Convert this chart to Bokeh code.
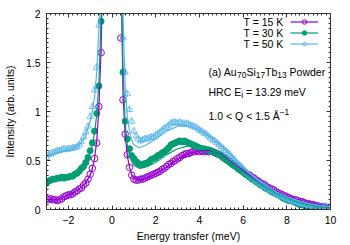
import numpy as np
from bokeh.plotting import figure
from bokeh.models import (Range1d, LinearAxis, FixedTicker, Label, Legend, LegendItem,
                          CustomJSTickFormatter, CustomLabelingPolicy)
from bokeh.embed import file_html
from bokeh.resources import INLINE

nan = np.nan

# ---------------- data ----------------
# energy transfer grid (meV), -3.0 ... 10.0 in 0.1 steps
energy = np.round(np.arange(-30, 101) / 10.0, 1)

int_15K = [
    0.11, 0.10, 0.11, 0.10, 0.10, 0.09, 0.10, 0.11, 0.13, 0.14,
    0.15, 0.15, 0.16, 0.18, 0.19, 0.21, 0.22, 0.25, 0.27, 0.31,
    0.36, 0.42, 0.52, 0.68, 1.05, 1.60, 2.8, 6.0, 15.0, 28.0,
    35.0, 28.0, 15.0, 5.0, 1.75, 1.12, 0.77, 0.56, 0.43, 0.35,
    0.31, 0.30, 0.30, 0.31, 0.31, 0.32, 0.33, 0.34, 0.35, 0.36,
    0.37, 0.38, 0.39, 0.41, 0.42, 0.44, 0.46, 0.47, 0.49, 0.50,
    0.52, 0.53, 0.55, 0.56, 0.57, 0.57, 0.58, 0.59, 0.59, 0.60,
    0.59, 0.60, 0.59, 0.60, 0.59, 0.60, 0.59, 0.58, 0.57, 0.56,
    0.55, 0.53, 0.52, 0.50, 0.49, 0.47, 0.45, 0.44, 0.42, 0.40,
    0.39, 0.37, 0.36, 0.35, 0.33, 0.32, 0.30, 0.29, 0.27, 0.26,
    0.25, 0.23, 0.22, 0.21, 0.20, 0.18, 0.17, 0.16, 0.15, 0.14,
    0.13, 0.12, 0.11, 0.10, 0.10, 0.09, 0.08, 0.08, 0.07, 0.06,
    0.06, 0.05, 0.05, 0.04, 0.04, 0.03, 0.03, 0.03, 0.02, 0.02,
    0.02]

int_30K = [
    0.27, 0.29, 0.30, 0.31, 0.31, 0.32, 0.32, 0.33, 0.32, 0.33,
    0.33, 0.34, 0.34, 0.36, 0.37, 0.39, 0.42, 0.44, 0.48, 0.53,
    0.60, 0.68, 0.80, 0.98, 1.26, 1.92, 3.5, 8.0, 18.0, 32.0,
    38.0, 32.0, 18.0, 7.0, 2.3, 1.40, 0.90, 0.72, 0.62, 0.55,
    0.52, 0.49, 0.47, 0.46, 0.46, 0.47, 0.47, 0.49, 0.51, 0.52,
    0.53, 0.55, 0.56, 0.58, 0.59, 0.61, 0.63, 0.66, 0.67, 0.68,
    0.69, 0.70, 0.69, 0.70, 0.69, 0.68, 0.67, 0.66, 0.65, 0.64,
    0.63, 0.62, 0.62, 0.61, 0.61, 0.60, 0.59, 0.58, 0.57, 0.56,
    0.55, 0.53, 0.51, 0.50, 0.48, 0.46, 0.45, 0.43, 0.41, 0.40,
    0.38, 0.36, 0.35, 0.33, 0.31, 0.30, 0.28, 0.27, 0.25, 0.24,
    0.22, 0.21, 0.20, 0.18, 0.17, 0.16, 0.15, 0.14, 0.12, 0.11,
    0.10, 0.09, 0.09, 0.08, 0.07, 0.06, 0.05, 0.05, 0.04, 0.03,
    0.03, 0.02, 0.02, 0.02, 0.02, 0.02, nan, nan, nan, nan,
    nan]

int_50K = [
    0.53, 0.56, 0.57, 0.58, 0.59, 0.60, 0.60, 0.61, 0.62, 0.61,
    0.62, 0.62, 0.63, 0.63, 0.64, 0.66, 0.69, 0.74, 0.79, 0.85,
    0.95, 1.05, 1.22, 1.45, 1.88, 2.6, 4.5, 9.0, 20.0, 34.0,
    40.0, 34.0, 20.0, 8.5, 2.6, 1.75, 1.40, 1.18, 1.02, 0.90,
    0.80, 0.75, 0.72, 0.70, 0.71, 0.72, 0.72, 0.73, 0.74, 0.74,
    0.76, 0.77, 0.79, 0.81, 0.83, 0.84, 0.86, 0.88, 0.89, 0.89,
    0.88, 0.89, 0.88, 0.87, 0.88, 0.87, 0.86, 0.85, 0.84, 0.83,
    0.81, 0.80, 0.78, 0.77, 0.75, 0.73, 0.71, 0.70, 0.68, 0.66,
    0.64, 0.62, 0.60, 0.58, 0.56, 0.53, 0.51, 0.48, 0.46, 0.44,
    0.42, 0.39, 0.37, 0.35, 0.33, 0.31, 0.29, 0.27, 0.26, 0.24,
    0.23, 0.21, 0.20, 0.19, 0.17, 0.16, 0.15, 0.14, 0.13, 0.12,
    0.11, 0.10, 0.09, 0.08, 0.08, 0.07, 0.06, 0.06, 0.05, 0.05,
    0.04, 0.04, 0.03, 0.03, 0.03, 0.03, 0.03, 0.03, 0.03, nan,
    nan]

err_15K = 0.015
err_30K = 0.015
err_50K = 0.03

# model fits
fit_energy = [-3.0, -2.5, -2.0, -1.5, -1.25, -1.0, -0.9, -0.8, -0.7, -0.6, -0.5, -0.45, -0.4,
              0.4, 0.45, 0.5, 0.6, 0.7, 0.8, 0.9, 1.0, 1.25, 1.5, 2.0, 2.5, 3.0, 3.5, 4.0,
              4.5, 5.0, 5.5, 6.0, 6.5, 7.0, 7.5, 8.0, 8.5, 9.0, 9.5, 10.0]
fit_15K = [0.10, 0.10, 0.15, 0.21, 0.26, 0.35, 0.42, 0.52, 0.70, 1.05, 1.65, 2.2, 3.0,
           3.0, 1.9, 1.2, 0.76, 0.55, 0.43, 0.36, 0.32, 0.30, 0.31, 0.36, 0.43, 0.51, 0.57, 0.60,
           0.60, 0.56, 0.48, 0.40, 0.32, 0.25, 0.19, 0.14, 0.10, 0.07, 0.05, 0.03]
fit_30K = [0.28, 0.31, 0.33, 0.39, 0.45, 0.58, 0.66, 0.78, 0.97, 1.30, 1.95, 2.5, 3.2,
           3.2, 2.2, 1.45, 0.88, 0.66, 0.55, 0.49, 0.45, 0.42, 0.43, 0.48, 0.56, 0.62, 0.65, 0.64,
           0.61, 0.55, 0.47, 0.38, 0.30, 0.23, 0.17, 0.12, 0.08, 0.05, 0.03, 0.02]
fit_50K = [0.55, 0.58, 0.61, 0.66, 0.73, 0.90, 1.00, 1.15, 1.40, 1.85, 2.6, 3.0, 3.5,
           3.5, 2.8, 2.0, 1.25, 0.95, 0.80, 0.71, 0.66, 0.63, 0.65, 0.72, 0.80, 0.85, 0.85, 0.81,
           0.74, 0.65, 0.54, 0.43, 0.33, 0.25, 0.18, 0.13, 0.09, 0.06, 0.04, 0.03]

series_labels = ["T = 15 K", "T = 30 K", "T = 50 K"]
x_ticks = [-2, 0, 2, 4, 6, 8, 10]
y_ticks = [0, 0.5, 1, 1.5, 2]

# ---------------- styles ----------------
FONT = "Liberation Sans"
FS = "10.5px"
SUB = "8.4px"
AXC = "#333333"
C15, C30, C50 = "#9400d3", "#009e73", "#56b4e9"

p = figure(width=350, height=245, x_range=Range1d(-3, 10), y_range=Range1d(0, 2),
           output_backend="svg", toolbar_location=None, min_border=0,
           min_border_left=46, min_border_right=20, min_border_top=13, min_border_bottom=36)
p.outline_line_color = None
p.xgrid.visible = False
p.ygrid.visible = False
p.background_fill_color = "white"
p.border_fill_color = "white"

xa = p.below[0]
ya = p.left[0]

x_minor = list(np.round(np.arange(-15, 51) * 0.2, 1))
y_minor = list(np.round(np.arange(0, 41) * 0.05, 2))
xt = FixedTicker(ticks=x_ticks, minor_ticks=x_minor)
yt = FixedTicker(ticks=y_ticks, minor_ticks=y_minor)
fmt = CustomJSTickFormatter(code="return tick < 0 ? '\\u2212' + String(-tick) : String(tick);")
no_labels = CustomLabelingPolicy(code="""
const all = [...indices];
for (const i of all) { indices.unset(i); }
return indices;
""")

top = LinearAxis(ticker=xt, formatter=fmt, major_label_policy=no_labels)
right = LinearAxis(ticker=yt, formatter=fmt, major_label_policy=no_labels)
p.add_layout(top, "above")
p.add_layout(right, "right")

xa.ticker = xt
ya.ticker = yt
xa.formatter = fmt
ya.formatter = fmt
xa.axis_label = "Energy transfer (meV)"
ya.axis_label = "Intensity (arb. units)"

for ax in (xa, ya, top, right):
    ax.major_tick_in = 4
    ax.major_tick_out = 0
    ax.minor_tick_in = 2
    ax.minor_tick_out = 0
    ax.axis_line_color = AXC
    ax.major_tick_line_color = AXC
    ax.minor_tick_line_color = AXC
    ax.major_label_text_font = FONT
    ax.major_label_text_font_size = FS
    ax.major_label_text_color = "black"
    ax.axis_label_text_font = FONT
    ax.axis_label_text_font_size = FS
    ax.axis_label_text_font_style = "normal"
    ax.axis_label_text_color = "black"
for ax in (top, right):
    ax.major_label_text_font_size = "1px"
    ax.major_label_standoff = 0
xa.major_label_standoff = 6
xa.axis_label_standoff = 3
ya.major_label_standoff = 6
ya.axis_label_standoff = 7

# ---------------- data marks ----------------
e = np.asarray(energy)
a15, a30, a50 = np.asarray(int_15K), np.asarray(int_30K), np.asarray(int_50K)

p.segment(e, a15 - err_15K, e, a15 + err_15K, line_color=C15, line_width=0.8)
s15 = p.scatter(e, a15, marker="circle", size=6.5, fill_color=None, line_color=C15, line_width=1)
p.segment(e, a30 - err_30K, e, a30 + err_30K, line_color=C30, line_width=0.8)
s30 = p.scatter(e, a30, marker="circle", size=6, fill_color=C30, line_color=C30, line_width=1)
p.segment(e, a50 - err_50K, e, a50 + err_50K, line_color=C50, line_width=0.8)
s50 = p.scatter(e, a50, marker="triangle", size=6.5, fill_color=None, line_color=C50, line_width=0.8)

f15 = p.line(fit_energy, fit_15K, line_color=C15, line_width=1.2)
f30 = p.line(fit_energy, fit_30K, line_color=C30, line_width=1.2)
f50 = p.line(fit_energy, fit_50K, line_color=C50, line_width=1.2)

legend = Legend(items=[LegendItem(label=" ", renderers=[f15, s15]),
                       LegendItem(label=" ", renderers=[f30, s30]),
                       LegendItem(label=" ", renderers=[f50, s50])],
                location=(244, 160), glyph_width=28, glyph_height=11, label_height=11,
                label_width=1, spacing=0, padding=0, margin=0, label_standoff=0,
                border_line_color=None, background_fill_alpha=0, label_text_font_size="1px")
p.add_layout(legend)

# legend texts (screen units relative to the frame)
for lbl, yy in zip(series_labels, (188, 177, 166)):
    p.add_layout(Label(x=237, y=yy, x_units="screen", y_units="screen", text=lbl,
                       text_align="right", text_baseline="middle", text_font=FONT,
                       text_font_size=FS, text_color="black"))


def add_text(x, y, t, size=FS):
    p.add_layout(Label(x=x, y=y, x_units="screen", y_units="screen", text=t,
                       text_align="left", text_baseline="middle", text_font=FONT,
                       text_font_size=size, text_color="black"))


# (a) Au70Si17Tb13 Powder
r1 = 138
add_text(162, r1, "(a) Au")
add_text(190.6, r1 - 3.5, "70", SUB)
add_text(199.9, r1, "Si")
add_text(209.3, r1 - 3.5, "17", SUB)
add_text(218.6, r1, "Tb")
add_text(230.8, r1 - 3.5, "13", SUB)
add_text(243.1, r1, "Powder")
# HRC Ei = 13.29 meV
r2 = 118
add_text(162, r2, "HRC E")
add_text(194.7, r2 - 3.5, "i", SUB)
add_text(199.5, r2, "= 13.29 meV")
# 1.0 < Q < 1.5 Å^-1
r3 = 94
add_text(162, r3, "1.0 < Q < 1.5 Å")
add_text(233.2, r3 + 4, "\u22121", SUB)

open("out.html", "w").write(file_html(p, INLINE))
